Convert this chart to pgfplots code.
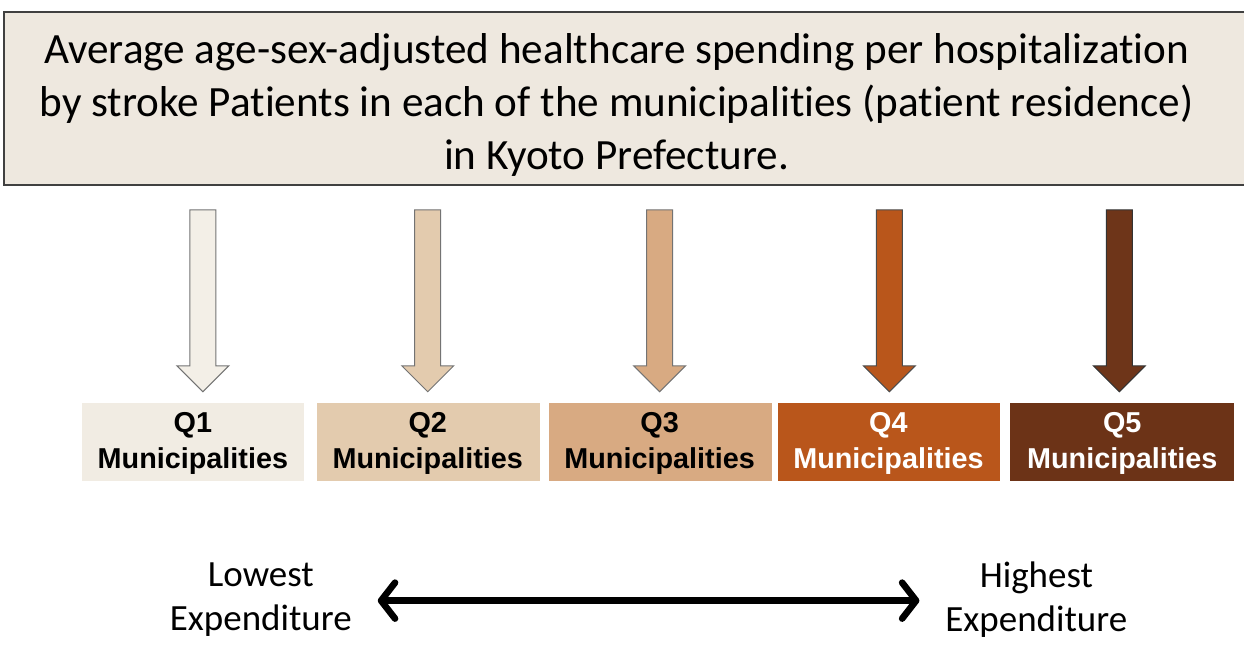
\documentclass[border=0pt]{standalone}
\usepackage{pgfplots}
\pgfplotsset{compat=1.18}
\usetikzlibrary{arrows.meta}
\usepackage{fontspec}
\setmainfont{Carlito}[Ligatures=NoCommon]
\newfontfamily\arialf{Liberation Sans}
\definecolor{titlefill}{HTML}{EEE8DF}
\definecolor{qa}{HTML}{F1ECE3}
\definecolor{qb}{HTML}{E3CBAE}
\definecolor{qc}{HTML}{D8AA82}
\definecolor{qd}{HTML}{B9561B}
\definecolor{qe}{HTML}{6C3317}
\definecolor{qaa}{HTML}{F3EFE7}
\definecolor{qea}{HTML}{6E3519}
\begin{document}
\begin{tikzpicture}
\begin{axis}[width=622.5pt,height=319.5pt,scale only axis,
  xmin=0,xmax=1245,ymin=0,ymax=639,y dir=reverse,
  axis lines=none,clip=false]
% frame of the picture (invisible)
\addplot[draw=none] coordinates {(0,0) (1245,639)};
% title box
\addplot[fill=titlefill,draw=none] coordinates {(4,12) (1245,12) (1245,185) (4,185)} --cycle;
\addplot[draw=black!75,line width=0.8pt] coordinates {(1245,12) (4,12) (4,185) (1245,185)};
\node[font=\fontsize{21.6}{26.6}\selectfont,align=center] at (axis cs:617,105)
 {Average age-sex-adjusted healthcare spending per hospitalization\\by stroke Patients in each of the municipalities (patient residence)\\in Kyoto Prefecture.};
% boxes
\addplot[fill=qa,draw=none] coordinates {(82,403) (304,403) (304,481) (82,481)} --cycle;
\addplot[fill=qb,draw=none] coordinates {(317,403) (540,403) (540,481) (317,481)} --cycle;
\addplot[fill=qc,draw=none] coordinates {(549,403) (772,403) (772,481) (549,481)} --cycle;
\addplot[fill=qd,draw=none] coordinates {(778,403) (1001,403) (1001,481) (778,481)} --cycle;
\addplot[fill=qe,draw=none] coordinates {(1011,403) (1235,403) (1235,481) (1011,481)} --cycle;
% arrows
\addplot[fill=qaa,draw=black!55,line width=0.5pt] coordinates {(190,210) (216,210) (216,366) (229,366) (203,392) (177,366) (190,366)} --cycle;
\addplot[fill=qb,draw=black!55,line width=0.5pt] coordinates {(415,210) (441,210) (441,366) (454,366) (428,392) (402,366) (415,366)} --cycle;
\addplot[fill=qc,draw=black!55,line width=0.5pt] coordinates {(647,210) (673,210) (673,366) (686,366) (660,392) (634,366) (647,366)} --cycle;
\addplot[fill=qd,draw=black!70,line width=0.5pt] coordinates {(877,210) (903,210) (903,366) (916,366) (890,392) (864,366) (877,366)} --cycle;
\addplot[fill=qea,draw=black!80,line width=0.5pt] coordinates {(1107,210) (1133,210) (1133,366) (1146,366) (1120,392) (1094,366) (1107,366)} --cycle;
% box labels
\node[font=\arialf\bfseries\fontsize{14.4}{18}\selectfont,align=center] at (axis cs:193,444) {Q1\\Municipalities};
\node[font=\arialf\bfseries\fontsize{14.4}{18}\selectfont,align=center] at (axis cs:428,444) {Q2\\Municipalities};
\node[font=\arialf\bfseries\fontsize{14.4}{18}\selectfont,align=center] at (axis cs:660,444) {Q3\\Municipalities};
\node[font=\arialf\bfseries\fontsize{14.4}{18}\selectfont,align=center,text=white] at (axis cs:889,444) {Q4\\Municipalities};
\node[font=\arialf\bfseries\fontsize{14.4}{18}\selectfont,align=center,text=white] at (axis cs:1123,444) {Q5\\Municipalities};
% bottom scale
\addplot[black,line width=3.3pt,{Straight Barb[length=7pt,width=18pt,round]}-{Straight Barb[length=7pt,width=18pt,round]}] coordinates {(378,601) (920,601)};
\node[font=\fontsize{18.5}{22}\selectfont,align=center] at (axis cs:261,600) {Lowest\\Expenditure};
\node[font=\fontsize{18.5}{22}\selectfont,align=center] at (axis cs:1037,600) {Highest\\Expenditure};
\end{axis}
\end{tikzpicture}
\end{document}
